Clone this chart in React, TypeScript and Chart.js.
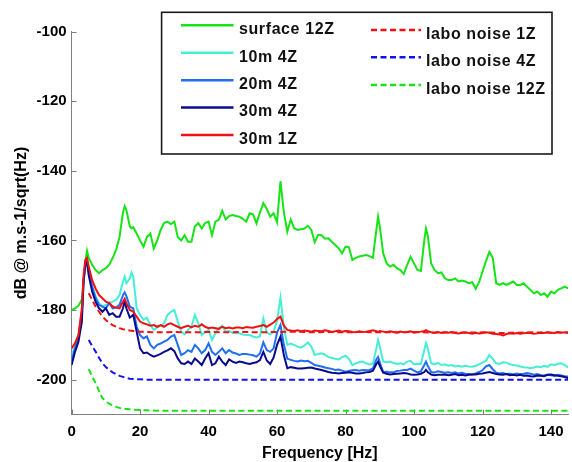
import React, { useEffect, useRef } from 'react';
import { Chart, registerables } from 'chart.js';

Chart.register(...registerables);

// ---------- DATA ----------
const FREQ = [
  0, 1, 2, 3, 3.5, 4, 4.5, 5, 6, 7, 8, 9,
  10, 11, 12, 13, 14, 15, 15.5, 16, 17, 17.5, 18, 19,
  20, 21, 22, 23, 24, 25, 26, 27, 28, 29,
  30, 31, 32, 33, 34, 35, 36, 37, 38, 39,
  40, 41, 42, 43, 44, 45, 46, 47, 48, 49,
  50, 51, 52, 53, 54, 55, 56, 57, 58, 59,
  60, 61, 62, 63, 64, 65, 66, 67, 68, 69,
  70, 71, 72, 73, 74, 75, 76, 77, 78, 79,
  80, 81, 82, 83, 84, 85, 86, 87, 88, 89,
  89.5, 90, 91, 92, 93, 94, 95, 96, 97, 98, 99,
  100, 101, 102, 103, 103.5, 104, 105, 106, 107, 108, 109,
  110, 111, 112, 113, 114, 115, 116, 117, 118, 119,
  120, 121, 122, 123, 124, 125, 126, 127, 128, 129,
  130, 131, 132, 133, 134, 135, 136, 137, 138, 139,
  140, 141, 142, 143, 144, 145,
];

const SURFACE_12Z = [
  -180, -179.5, -178.8, -177, -172, -166, -163, -165, -167, -168.5, -169.4, -168.5,
  -168, -167, -165, -162.7, -159, -152, -150.2, -151.3, -156, -156.5, -156.2, -158,
  -160, -161.8, -159, -158, -162.3, -160, -157, -155, -154.6, -155.3,
  -154.6, -159, -160, -158.5, -160.4, -160.4, -156, -155, -156.6, -155,
  -154.6, -158.5, -154.6, -154, -151.5, -154, -153, -152.7, -153, -153.2,
  -153.8, -154.6, -152.2, -152.5, -155.1, -152, -149.3, -151, -153.2, -152.2,
  -154.8, -143, -152, -157.5, -154, -156.5, -157, -156.8, -156.6, -155.8,
  -157, -160.5, -158.4, -158.5, -159.5, -159.4, -160.4, -161.3, -162.3, -163.7,
  -161.8, -162, -165.6, -165, -164.6, -164.4, -164.2, -164.5, -165, -157,
  -153.2, -156, -163.7, -166.6, -167.5, -167, -168, -168.5, -169.6, -167, -164.7,
  -166.6, -168.5, -168.8, -160, -156.6, -158.5, -166.6, -168.5, -169.4, -169.2, -170.9,
  -171.4, -171.4, -170.9, -171.8, -171.5, -171.8, -172.3, -172, -173.9, -172,
  -169, -166, -163.3, -165, -172.3, -172.8, -172.3, -172.8, -172.3, -171.8,
  -172.8, -172.8, -172.3, -173.3, -174.2, -175.2, -174.7, -175.7, -175.2, -176.2,
  -174.7, -175.2, -174.2, -173.8, -173.3, -173.8,
];

const M10_4Z = [
  -193, -190.5, -188, -181, -172, -167.5, -166.5, -169, -173, -176, -178, -179,
  -178.5, -178, -177.6, -177.1, -175.7, -171.8, -170.4, -172.3, -170.9, -169.2, -170.4, -179.5,
  -181.4, -182.8, -182.2, -184.3, -185.7, -185, -184.5, -183.8, -181.4, -180.5,
  -180, -183.3, -186.2, -187, -185.7, -184.8, -181.4, -183.8, -187.2, -186.4,
  -185.7, -188.6, -186.7, -185.2, -184.5, -186.2, -186, -186.5, -186.7, -186.7,
  -187, -187.2, -187.2, -187.6, -187.9, -187.5, -182.4, -186.5, -187, -186.2,
  -183, -176.4, -185, -190, -189.6, -190, -190.5, -190.8, -190.2, -189.3,
  -190.5, -192.9, -192.6, -192.4, -192.8, -193.5, -193.8, -194, -194.2, -193.5,
  -193.1, -194, -195.8, -195.3, -195, -194.8, -195.3, -195.6, -195.4, -191,
  -188.6, -190.5, -194.8, -195, -194.8, -195.2, -195.5, -195.3, -195.6, -194.8, -194.6,
  -195.6, -195.4, -195.5, -191.5, -189.5, -191, -195.3, -195.6, -195.2, -195.8, -195.6,
  -196, -195.8, -196.2, -196, -196.3, -196, -196.2, -196.3, -196, -195.6,
  -195, -194.6, -192.9, -194, -195.3, -195.5, -195, -195.1, -195.6, -195.8,
  -195.9, -196.2, -196.4, -196.5, -196.7, -196.5, -196.2, -196.4, -196, -196.3,
  -195.6, -195.8, -195.5, -195.3, -195.8, -196.5,
];

const M20_4Z = [
  -194.8, -191, -187.5, -180.5, -171, -166.8, -165.9, -168, -173.3, -176.6, -178.5, -179,
  -179.5, -178, -179.5, -179.3, -178.5, -175.7, -174.9, -176, -179, -179.3, -179.5, -184.8,
  -187.2, -188.1, -187.6, -190, -191, -190, -189.6, -189.1, -188.6, -187.6,
  -187.2, -190, -192.9, -192.4, -191.5, -192, -190, -191, -192.4, -191.5,
  -189.6, -192, -192.9, -192, -191, -192.4, -191.5, -192.2, -192.5, -192.9,
  -192.6, -192.6, -192.8, -193, -193.4, -192.5, -189.3, -191.5, -192, -191,
  -186.5, -184.3, -190, -194, -194.3, -194.6, -194.8, -194.5, -194.7, -194.6,
  -195.2, -195.8, -196, -196.2, -196.5, -196.7, -196.9, -197.2, -197.1, -197.4,
  -197.7, -197.5, -197.3, -197.2, -197.4, -197.2, -197.3, -197.2, -196.8, -194.2,
  -193.5, -195, -197.8, -197.7, -197.9, -197.9, -197.5, -197.4, -197.2, -197.2, -196.8,
  -197.4, -197.9, -197.6, -195.8, -194.8, -196, -197.8, -197.9, -197.6, -197.8, -198,
  -197.9, -198.1, -197.9, -198.2, -198, -198.3, -198.4, -198.5, -198.2, -197.8,
  -197.3, -196.2, -195.8, -197, -198, -198.2, -198.1, -198.4, -198.3, -198.5,
  -198.2, -198.4, -198.3, -198.1, -198.3, -198.6, -198.4, -198.7, -198.8, -198.6,
  -198.7, -198.9, -198.6, -198.8, -199, -199.1,
];

const M30_4Z = [
  -195.8, -192, -189.1, -183.3, -171.8, -167, -166.3, -170, -174.7, -177.6, -179.5, -180.5,
  -179.5, -181.4, -180.9, -181.9, -181.9, -179.5, -177.4, -179.5, -182.2, -181.8, -181.4, -186.2,
  -191, -192.4, -192.2, -192.9, -193.4, -193, -192.6, -192, -191.6, -191,
  -191.8, -193.9, -195.3, -195.5, -194.8, -195.5, -193.9, -194.8, -195.8, -193.9,
  -192.4, -195.8, -195.3, -193.4, -194.8, -195.8, -194.2, -194.8, -195.2, -194.8,
  -195, -195.3, -195.5, -195.2, -195, -194.4, -192, -194.5, -195.5, -193.6,
  -190, -187.6, -193, -196.7, -196.4, -196.6, -196.8, -196.8, -196.7, -196.6,
  -196.5, -196.8, -197, -197.2, -197.5, -197.8, -198, -198.1, -198.2, -198.1,
  -198, -197.9, -198, -198.2, -198.2, -198.1, -197.9, -197.8, -197.4, -195.5,
  -194.8, -196, -198, -198.3, -198.5, -198.4, -198.3, -198.2, -198.1, -198.2, -198.5,
  -198.6, -198.5, -198.3, -197.8, -197.2, -197.8, -198.5, -198.7, -198.6, -198.6, -198.5,
  -198.7, -198.6, -198.4, -198.7, -198.6, -198.8, -198.6, -198.5, -198.5, -198.3,
  -198.2, -198, -197.8, -198.1, -198.4, -198.5, -198.6, -198.4, -198.7, -198.6,
  -198.8, -198.6, -198.9, -198.8, -199, -199.1, -198.8, -198.9, -199, -198.6,
  -198.5, -198.7, -198.9, -199, -199.2, -199.6,
];

const M30_1Z = [
  -191, -189.5, -187.2, -179.5, -170, -165.6, -165, -167.5, -171.4, -173.8, -175.7, -176.6,
  -177.6, -178, -179, -179.3, -179.5, -177.6, -176.8, -178, -180, -180.2, -180.5, -181.9,
  -183.3, -183.8, -184.1, -184.5, -184.3, -184.8, -184.3, -184.8, -184.1, -183.8,
  -184.3, -184.8, -185.2, -184.8, -184.5, -185, -184.5, -184.8, -184.1, -184.8,
  -185.2, -185, -185.2, -185.4, -184.8, -185.2, -185, -185.3, -185, -185,
  -185.2, -184.9, -185, -185.1, -184.8, -184.6, -184.3, -184.8, -184.2, -183.6,
  -182.6, -181.9, -184.5, -185.7, -185.9, -186, -185.8, -186.1, -185.9, -186,
  -186.2, -185.9, -186, -186.1, -185.8, -186, -186.3, -186.1, -185.9, -186.2,
  -186, -186.1, -186.3, -186.4, -186.1, -186.3, -186.2, -186, -185.8, -186.1,
  -186.3, -186, -186.2, -186.4, -186.1, -186.3, -186.5, -186.2, -186.4, -186.3, -186.1,
  -186.5, -186.3, -186.2, -186, -185.8, -186.1, -186.4, -186.5, -186.3, -186.6, -186.4,
  -186.5, -186.3, -186.6, -186.7, -186.5, -186.4, -186.6, -186.8, -186.5, -186.7,
  -186.6, -186.4, -186.5, -186.8, -186.9, -187, -187.3, -186.9, -186.7, -186.8,
  -186.6, -186.8, -186.7, -186.5, -186.6, -186.8, -186.7, -186.5, -186.6, -186.4,
  -186.5, -186.6, -186.3, -186.5, -186.4, -186.6,
];

const NOISE_FREQ = [
  5, 6, 7, 8, 9, 10, 11, 12, 13, 14, 15, 16, 17, 18, 20, 22, 25,
  30, 35, 40, 45, 50, 55, 60, 65, 70, 75, 80, 85, 90, 95, 100,
  105, 110, 115, 120, 125, 130, 135, 140, 145,
];

const LABO_NOISE_1Z = [
  -175.2, -177.1, -179, -180.5, -181.8, -182.9, -183.7, -184.3, -184.8, -185.2, -185.5, -185.7, -185.9, -186, -186.2, -186.3, -186.4,
  -186.3, -186.4, -186.3, -186.4, -186.3, -186.4, -186.3, -186.2, -186.4, -186.3, -186.4, -186.3, -186.4, -186.4, -186.3,
  -186.5, -186.4, -186.5, -186.4, -186.6, -186.5, -186.4, -186.5, -186.4,
];

const LABO_NOISE_4Z = [
  -188.6, -190.3, -191.9, -193.7, -195.3, -196.4, -197.2, -197.9, -198.4, -198.9, -199.2, -199.5, -199.7, -199.8, -199.9, -200, -200,
  -200, -200, -200, -200, -200, -200, -200, -200, -200, -200, -200, -200, -200, -200, -200,
  -200, -200, -200, -200, -200, -200, -200, -200, -200,
];

const LABO_NOISE_12Z = [
  -197, -199, -201, -203.2, -205.3, -206.2, -206.9, -207.4, -207.8, -208.1, -208.3, -208.4, -208.5, -208.6, -208.7, -208.8, -208.9,
  -208.9, -208.9, -208.9, -208.9, -208.9, -208.9, -208.9, -208.9, -208.9, -208.9, -208.9, -208.9, -208.9, -208.9, -208.9,
  -208.9, -208.9, -208.9, -208.9, -208.9, -208.9, -208.9, -208.9, -208.9,
];

const X_TICKS = [0, 20, 40, 60, 80, 100, 120, 140];
const Y_TICKS = [-200, -180, -160, -140, -120, -100];

// ---------- STYLE ----------
const FONT = "'Liberation Sans', Arial, Helvetica, sans-serif";
const GREEN = '#16e416';
const CYAN = '#45efd5';
const BLUE = '#1f6ff0';
const NAVY = '#0a0a8c';
const RED = '#f01212';
const DBLUE = '#1212f0';
const AXIS = '#808080';

const pts = (xs: number[], ys: number[]) => xs.map((x, i) => ({ x, y: ys[i] }));

const inwardTicks = {
  id: 'inwardTicks',
  beforeDatasetsDraw(chart: any) {
    const { ctx, chartArea, scales } = chart;
    const x = scales.x;
    const y = scales.y;
    ctx.save();
    ctx.strokeStyle = AXIS;
    ctx.lineWidth = 1;
    ctx.beginPath();
    X_TICKS.forEach((v) => {
      const px = Math.round(x.getPixelForValue(v)) + 0.5;
      ctx.moveTo(px, chartArea.bottom);
      ctx.lineTo(px, chartArea.bottom - 5);
    });
    Y_TICKS.forEach((v) => {
      const py = Math.round(y.getPixelForValue(v)) + 0.5;
      ctx.moveTo(chartArea.left, py);
      ctx.lineTo(chartArea.left + 5, py);
    });
    ctx.stroke();
    ctx.restore();
  },
};

const LEGEND_BOX = { x: 161.6, y: 12.3, w: 390.4, h: 141.7 };
const LEGEND_SLOTS = [
  { x0: 181, x1: 233.5, tx: 239, y: 25.3 },
  { x0: 181, x1: 233.5, tx: 239, y: 52.7 },
  { x0: 181, x1: 233.5, tx: 239, y: 80.3 },
  { x0: 181, x1: 233.5, tx: 239, y: 107.5 },
  { x0: 181, x1: 233.5, tx: 239, y: 135 },
  { x0: 371, x1: 421, tx: 426, y: 30 },
  { x0: 371, x1: 421, tx: 426, y: 57.3 },
  { x0: 371, x1: 421, tx: 426, y: 85 },
];

const boxLegend = {
  id: 'boxLegend',
  afterDraw(chart: any) {
    const { ctx } = chart;
    ctx.save();
    ctx.fillStyle = '#ffffff';
    ctx.fillRect(LEGEND_BOX.x, LEGEND_BOX.y, LEGEND_BOX.w, LEGEND_BOX.h);
    ctx.strokeStyle = '#1a1a1a';
    ctx.lineWidth = 1.6;
    ctx.strokeRect(LEGEND_BOX.x, LEGEND_BOX.y, LEGEND_BOX.w, LEGEND_BOX.h);
    chart.data.datasets.forEach((ds: any, i: number) => {
      const s = LEGEND_SLOTS[i];
      if (!s) return;
      ctx.beginPath();
      ctx.strokeStyle = ds.borderColor;
      ctx.lineWidth = 2.4;
      ctx.setLineDash(ds.borderDash || []);
      ctx.moveTo(s.x0, s.y);
      ctx.lineTo(s.x1, s.y);
      ctx.stroke();
      ctx.setLineDash([]);
      ctx.fillStyle = '#111';
      ctx.font = `bold 16px ${FONT}`;
      try { (ctx as any).letterSpacing = '0.6px'; } catch (e) {}
      ctx.textAlign = 'left';
      ctx.textBaseline = 'alphabetic';
      ctx.fillText(ds.label, s.tx, s.y + 8.8);
    });
    ctx.restore();
  },
};

export default function App() {
  const ref = useRef<HTMLCanvasElement | null>(null);

  useEffect(() => {
    document.body.style.margin = '0';
    const canvas = ref.current;
    if (!canvas) return;
    const series = [
      { label: 'surface 12Z', x: FREQ, y: SURFACE_12Z, color: GREEN, dash: [] as number[] },
      { label: '10m 4Z', x: FREQ, y: M10_4Z, color: CYAN, dash: [] },
      { label: '20m 4Z', x: FREQ, y: M20_4Z, color: BLUE, dash: [] },
      { label: '30m 4Z', x: FREQ, y: M30_4Z, color: NAVY, dash: [] },
      { label: '30m 1Z', x: FREQ, y: M30_1Z, color: RED, dash: [] },
      { label: 'labo noise 1Z', x: NOISE_FREQ, y: LABO_NOISE_1Z, color: RED, dash: [6, 3.5] },
      { label: 'labo noise 4Z', x: NOISE_FREQ, y: LABO_NOISE_4Z, color: DBLUE, dash: [6, 3.5] },
      { label: 'labo noise 12Z', x: NOISE_FREQ, y: LABO_NOISE_12Z, color: GREEN, dash: [6, 3.5] },
    ];
    const datasets = series.map((s, i) => ({
      label: s.label,
      data: pts(s.x, s.y),
      borderColor: s.color,
      backgroundColor: s.color,
      borderWidth: 2,
      borderDash: s.dash,
      pointRadius: 0,
      tension: 0,
      fill: false,
      order: series.length - i,
    }));

    const chart = new Chart(canvas, {
      type: 'line',
      data: { datasets },
      options: {
        responsive: false,
        animation: false,
        devicePixelRatio: 1,
        layout: { padding: { top: 31.5, right: 0, bottom: 0, left: 0 } },
        plugins: { legend: { display: false }, tooltip: { enabled: false } },
        scales: {
          x: {
            type: 'linear',
            min: 0,
            max: 145,
            afterBuildTicks: (s: any) => { s.ticks = X_TICKS.map((v) => ({ value: v })); },
            afterFit: (s: any) => { s.height = 47.5; },
            grid: { display: false, drawTicks: false, tickLength: 0 },
            border: { display: true, color: AXIS, width: 1 },
            ticks: {
              padding: 8.5,
              color: '#000',
              maxRotation: 0,
              autoSkip: false,
              font: { family: FONT, size: 15, weight: 'bold' },
            },
            title: {
              display: true,
              text: 'Frequency [Hz]',
              color: '#000',
              padding: { top: 0, bottom: 0 },
              font: { family: FONT, size: 16, weight: 'bold', lineHeight: 1.1 },
            },
          },
          y: {
            type: 'linear',
            min: -210,
            max: -100,
            afterBuildTicks: (s: any) => { s.ticks = Y_TICKS.map((v) => ({ value: v })); },
            afterFit: (s: any) => { s.width = 71.6; },
            grid: { display: false, drawTicks: false, tickLength: 0 },
            border: { display: true, color: AXIS, width: 1 },
            ticks: {
              padding: 5,
              color: '#000',
              autoSkip: false,
              font: { family: FONT, size: 15, weight: 'bold' },
            },
            title: {
              display: true,
              text: 'dB @ m.s-1/sqrt(Hz)',
              color: '#000',
              padding: { top: 12.4, bottom: 0 },
              font: { family: FONT, size: 16, weight: 'bold', lineHeight: 1.2 },
            },
          },
        },
      } as any,
      plugins: [inwardTicks, boxLegend],
    });
    return () => chart.destroy();
  }, []);

  return (
    <div style={{ width: 572, height: 462 }}>
      <canvas ref={ref} width={572} height={462} style={{ display: 'block' }} />
    </div>
  );
}
